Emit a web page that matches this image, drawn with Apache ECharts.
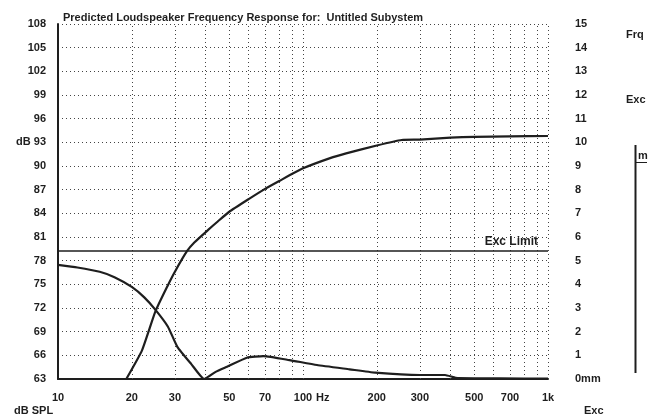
<!DOCTYPE html>
<html>
<head>
<meta charset="utf-8">
<script src="https://cdn.jsdelivr.net/npm/echarts@6/dist/echarts.min.js"></script>
<style>html,body{margin:0;padding:0;background:#fff}#c{width:658px;height:419px}</style>
</head>
<body>
<div id="c"></div>
<script>
// ---- data ----
var titleText = 'Predicted Loudspeaker Frequency Response for:  Untitled Subystem';
var xTickLabels = [10, 20, 30, 50, 70, 100, 200, 300, 500, 700, 1000];
var xGridLines = [20, 30, 40, 50, 60, 70, 80, 90, 100, 200, 300, 400, 500, 600, 700, 800, 900, 1000];
var splFreq = [19, 22, 25, 28, 30, 33.6, 36, 41, 45, 50, 60, 70, 80, 100, 129, 150, 200, 253, 300, 400, 500, 700, 1000];
var splDb   = [63, 66.6, 71.6, 74.8, 76.6, 79.2, 80.3, 81.9, 83.0, 84.2, 85.8, 87.1, 88.1, 89.7, 91.0, 91.6, 92.6, 93.3, 93.35, 93.6, 93.7, 93.75, 93.8];
var excFreq = [10, 12, 14.8, 17, 20, 22.5, 25, 28.1, 30.7, 35, 39.5, 44, 49, 59, 69, 88, 114, 155, 197, 300, 380, 420, 500, 800, 1000];
var excMm   = [4.82, 4.71, 4.53, 4.3, 3.89, 3.45, 2.92, 2.21, 1.36, 0.63, 0, 0.3, 0.52, 0.9, 0.97, 0.8, 0.59, 0.41, 0.27, 0.17, 0.17, 0.05, 0.03, 0.02, 0.02];
var excLimitMm = 5.41;
var leftTicks = {min: 63, max: 108, interval: 3};
var rightTicks = {min: 0, max: 15, interval: 1};

var FONT = 'Liberation Sans';
var INK = '#1e1e1e';
var chart = echarts.init(document.getElementById('c'));

function zip(a, b) { return a.map(function (v, i) { return [v, b[i]]; }); }

var lbl = {fontFamily: FONT, fontWeight: 'bold', fontSize: 11, color: INK};

chart.setOption({
  backgroundColor: '#fff',
  animation: false,
  title: {
    text: titleText, left: 58, top: 7,
    textStyle: {fontFamily: FONT, fontWeight: 'bold', fontSize: 11, color: INK}
  },
  grid: {left: 58, right: 110, top: 24, bottom: 40},
  xAxis: {
    type: 'log', logBase: 10, min: 10, max: 1000,
    axisLine: {show: true, onZero: false, lineStyle: {color: INK, width: 2}},
    axisTick: {show: false},
    splitLine: {show: false},
    minorTick: {show: false},
    axisLabel: Object.assign({
      margin: 13,
      customValues: xTickLabels,
      formatter: function (v) { return v >= 1000 ? '1k' : String(v); }
    }, lbl)
  },
  yAxis: [{
    type: 'value', min: leftTicks.min, max: leftTicks.max, interval: leftTicks.interval,
    axisLine: {show: true, lineStyle: {color: INK, width: 2}},
    axisTick: {show: false},
    splitLine: {show: true, lineStyle: {color: '#444', width: 1, type: [1, 3]}},
    axisLabel: Object.assign({
      margin: 12,
      formatter: function (v) { return v === 93 ? 'dB 93' : String(v); }
    }, lbl)
  }, {
    type: 'value', position: 'right', min: rightTicks.min, max: rightTicks.max, interval: rightTicks.interval,
    axisLine: {show: false},
    axisTick: {show: false},
    splitLine: {show: false},
    axisLabel: Object.assign({
      margin: 27, align: 'left',
      formatter: function (v) { return v === 0 ? '0mm' : String(v); }
    }, lbl)
  }],
  series: [{
    name: 'grid', type: 'line', data: [], silent: true,
    markLine: {
      silent: true, symbol: 'none', label: {show: false},
      lineStyle: {color: '#444', width: 1, type: [1, 3]},
      data: xGridLines.map(function (f) { return {xAxis: f}; })
    }
  }, {
    name: 'SPL', type: 'line', yAxisIndex: 0, data: zip(splFreq, splDb),
    showSymbol: false, smooth: 0.15, lineStyle: {color: INK, width: 2.2}, z: 5
  }, {
    name: 'Excursion', type: 'line', yAxisIndex: 1, data: zip(excFreq, excMm),
    showSymbol: false, smooth: 0.15, lineStyle: {color: INK, width: 2.2}, z: 5,
    markLine: {
      silent: true, symbol: 'none',
      lineStyle: {color: INK, width: 1.5, type: 'solid'},
      label: {show: true, position: 'insideEndTop', formatter: 'Exc Limit',
        fontFamily: FONT, fontWeight: 'bold', fontSize: 12, color: INK, distance: [10, 3]},
      data: [{yAxis: excLimitMm}]
    }
  }],
  graphic: [
    {type: 'text', left: 14, top: 405, style: {text: 'dB SPL', font: 'bold 11px "Liberation Sans"', fill: INK}},
    {type: 'text', left: 316, top: 392, style: {text: 'Hz', font: 'bold 11px "Liberation Sans"', fill: INK}},
    {type: 'text', left: 584, top: 405, style: {text: 'Exc', font: 'bold 11px "Liberation Sans"', fill: INK}},
    {type: 'text', left: 626, top: 29, style: {text: 'Frq', font: 'bold 11px "Liberation Sans"', fill: INK}},
    {type: 'text', left: 626, top: 94, style: {text: 'Exc', font: 'bold 11px "Liberation Sans"', fill: INK}},
    {type: 'line', shape: {x1: 635.5, y1: 145, x2: 635.5, y2: 373}, style: {stroke: INK, lineWidth: 2}},
    {type: 'line', shape: {x1: 635, y1: 162.5, x2: 647, y2: 162.5}, style: {stroke: INK, lineWidth: 1}},
    {type: 'text', left: 638, top: 150, style: {text: 'm', font: 'bold 11px "Liberation Sans"', fill: INK}}
  ]
});
</script>
</body>
</html>
